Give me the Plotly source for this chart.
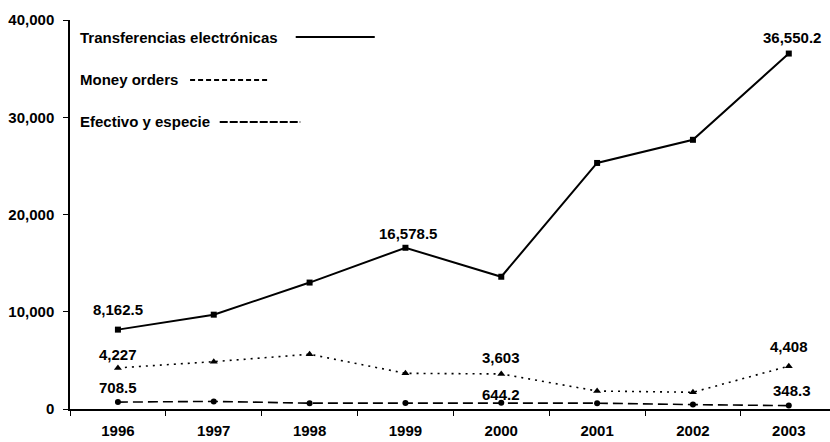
import plotly.graph_objects as go

# Años y series
years = ["1996", "1997", "1998", "1999", "2000", "2001", "2002", "2003"]
transferencias = [8162.5, 9700, 13000, 16578.5, 13600, 25300, 27680, 36550.2]
money_orders = [4227, 4870, 5630, 3670, 3603, 1850, 1720, 4408]
efectivo = [708.5, 780, 600, 620, 644.2, 600, 450, 348.3]

y_ticks = [0, 10000, 20000, 30000, 40000]

# Índices de los años que llevan etiqueta de valor
etiquetas_transf = [0, 3, 7]
etiquetas_money = [0, 4, 7]
etiquetas_efect = [0, 4, 7]

FONT = "Liberation Sans"
BLACK = "#000000"
TXT = dict(family=FONT, size=15, color=BLACK, weight="bold")

fig = go.Figure()

fig.add_trace(go.Scatter(
    x=years, y=transferencias, mode="lines+markers",
    name="Transferencias electrónicas",
    line=dict(color=BLACK, width=2),
    marker=dict(symbol="square", size=6, color=BLACK),
))
fig.add_trace(go.Scatter(
    x=years, y=money_orders, mode="lines+markers",
    name="Money orders",
    line=dict(color=BLACK, width=1.6, dash="2px,5px"),
    marker=dict(symbol="triangle-up", size=7, color=BLACK),
))
fig.add_trace(go.Scatter(
    x=years, y=efectivo, mode="lines+markers",
    name="Efectivo y especie",
    line=dict(color=BLACK, width=1.6, dash="10px,5px"),
    marker=dict(symbol="circle", size=6, color=BLACK),
))

annotations = []


def etiqueta(serie, idx, fmt, shift, dx=0):
    annotations.append(dict(
        x=idx, y=serie[idx], xref="x", yref="y",
        text=format(serie[idx], fmt), showarrow=False,
        yshift=shift, xshift=dx,
        font=TXT,
    ))


for i, s in zip(etiquetas_transf, [20, 14, 16]):
    etiqueta(transferencias, i, ",.1f", s, dx=3 if i else 0)
for i, s in zip(etiquetas_money, [13, 16, 20]):
    etiqueta(money_orders, i, ",.0f", s)
for i, s in zip(etiquetas_efect, [15, 8, 15]):
    etiqueta(efectivo, i, ",.1f", s, dx=3 if i == 7 else 0)

# Leyenda: texto seguido de la muestra de línea
leyenda = [
    ("Transferencias electrónicas", 0.956, 0.297, 0.401, "solid"),
    ("Money orders", 0.846, 0.158, 0.261, "5px,3px"),
    ("Efectivo y especie", 0.738, 0.197, 0.303, "8px,2px"),
]
shapes = []
for texto, yp, x0, x1, dash in leyenda:
    annotations.append(dict(
        x=0.011, y=yp, xref="paper", yref="paper", xanchor="left",
        yanchor="middle", text=texto, showarrow=False,
        font=TXT,
    ))
    shapes.append(dict(
        type="line", xref="paper", yref="paper",
        x0=x0, x1=x1, y0=yp, y1=yp,
        line=dict(color=BLACK, width=2, dash=dash),
    ))

fig.update_layout(
    width=830, height=442,
    margin=dict(l=70, r=0, t=20, b=33),
    paper_bgcolor="white", plot_bgcolor="white",
    showlegend=False,
    font=TXT,
    annotations=annotations,
    shapes=shapes,
)

fig.update_xaxes(
    type="category", range=[-0.5, 7.43],
    showline=True, linecolor=BLACK, linewidth=1.5,
    ticks="outside", tickson="boundaries", ticklen=5, tickcolor=BLACK,
    ticklabelstandoff=7,
    showgrid=False, zeroline=False,
    tickfont=TXT,
)
fig.update_yaxes(
    range=[0, 40000], tickvals=y_ticks, tickformat=",",
    showline=True, linecolor=BLACK, linewidth=1.5,
    ticks="outside", ticklen=5, tickcolor=BLACK,
    ticklabelstandoff=6,
    showgrid=False, zeroline=False,
    tickfont=TXT,
)

fig.write_html("out.html")
